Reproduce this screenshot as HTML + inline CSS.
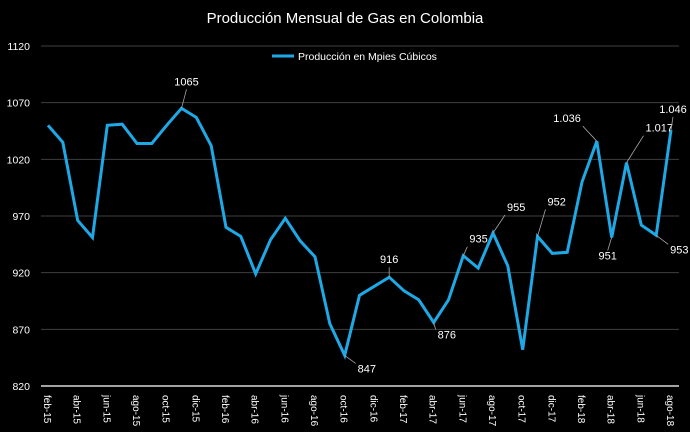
<!DOCTYPE html>
<html><head><meta charset="utf-8">
<style>
html,body{margin:0;padding:0;background:#000;}
svg{display:block;font-family:"Liberation Sans",sans-serif;}
</style></head>
<body>
<svg id="chart" width="690" height="432" viewBox="0 0 690 432">
<rect width="690" height="432" fill="#000"/>
<text x="345" y="23" text-anchor="middle" fill="#fff" font-size="15">Producción Mensual de Gas en Colombia</text>
<g>
<line x1="272" y1="56" x2="294" y2="56" stroke="#1ea9e6" stroke-width="3"/>
<text x="298" y="60" fill="#fff" font-size="10.5">Producción en Mpies Cúbicos</text>
</g>
<g id="grid"></g><g id="yticks"></g><g id="xticks"></g><g id="series"></g><g id="labels"></g>
</svg>
<script>
const months = ["feb-15","mar-15","abr-15","may-15","jun-15","jul-15","ago-15","sep-15","oct-15","nov-15","dic-15","ene-16","feb-16","mar-16","abr-16","may-16","jun-16","jul-16","ago-16","sep-16","oct-16","nov-16","dic-16","ene-17","feb-17","mar-17","abr-17","may-17","jun-17","jul-17","ago-17","sep-17","oct-17","nov-17","dic-17","ene-18","feb-18","mar-18","abr-18","may-18","jun-18","jul-18","ago-18"];
const production = [1050,1035,966,951,1050,1051,1034,1034,1050,1065,1057,1032,960,952,919,949,968,948,934,875,847,900,908,916,904,896,876,896,935,924,955,926,852,952,937,938,1000,1036,951,1017,962,953,1046];
const yTicks = [820,870,920,970,1020,1070,1120];
const annotations = [
 {i:9,text:"1065",dx:5,dy:-23},
 {i:20,text:"847",dx:19,dy:17},
 {i:23,text:"916",dx:0,dy:-14},
 {i:26,text:"876",dx:10,dy:16},
 {i:28,text:"935",dx:12,dy:-13},
 {i:30,text:"955",dx:20,dy:-22},
 {i:33,text:"952",dx:16,dy:-31},
 {i:37,text:"1.036",dx:-28,dy:-19},
 {i:38,text:"951",dx:-4,dy:22},
 {i:39,text:"1.017",dx:25,dy:-31},
 {i:41,text:"953",dx:20,dy:18},
 {i:42,text:"1.046",dx:2,dy:-17}
];
const NS="http://www.w3.org/2000/svg";
const x0=48,x1=671,yTop=46,yBot=386;
function xs(i){return x0+(x1-x0)*i/(months.length-1);}
function ys(v){return yBot-(v-820)/(1120-820)*(yBot-yTop);}
function mk(tag,attrs,parent){const e=document.createElementNS(NS,tag);for(const k in attrs)e.setAttribute(k,attrs[k]);document.getElementById(parent).appendChild(e);return e;}
yTicks.forEach(t=>{
 if(t>820){const g=mk('line',{x1:41,x2:679,y1:ys(t),y2:ys(t),stroke:'#3f3f3f','stroke-width':1},'grid');
 
 }
 const l=mk('text',{x:30,y:ys(t)+4,'text-anchor':'end',fill:'#fff','font-size':10.5},'yticks');
 l.textContent=t;
 
 
});
const ax=mk('line',{x1:41,x2:679,y1:yBot,y2:yBot,stroke:'#d9d9d9','stroke-width':1.5},'grid');


months.forEach((m,i)=>{
 if(i%2!==0)return;
 const t=mk('text',{x:0,y:0,transform:`translate(${xs(i)-4},395) rotate(90)`,fill:'#fff','font-size':10},'xticks');
 t.textContent=m;
 
 
});
const pts=production.map((v,i)=>xs(i).toFixed(1)+','+ys(v).toFixed(1)).join(' ');
const pl=mk('polyline',{points:pts,fill:'none',stroke:'#1ea9e6','stroke-width':3,'stroke-linejoin':'miter'},'series');


annotations.forEach(a=>{
 const px=xs(a.i),py=ys(production[a.i]);
 const tx=px+a.dx,ty=py+a.dy;
 const ln=mk('line',{x1:px,y1:py,x2:tx+(a.dx>8?-8:a.dx<-8?14:0),y2:ty+(a.dy<0?4:-9),stroke:'#a6a6a6','stroke-width':0.8},'labels');
 
 
 const t=mk('text',{x:a.dx>8?tx-6:tx,y:ty,'text-anchor':a.dx>8?'start':'middle',fill:'#fff','font-size':11},'labels');
 if(a.dx<-8)t.setAttribute('text-anchor','end'),t.setAttribute('x',tx+12);
 t.textContent=a.text;
 
 
});
</script>
</body></html>
